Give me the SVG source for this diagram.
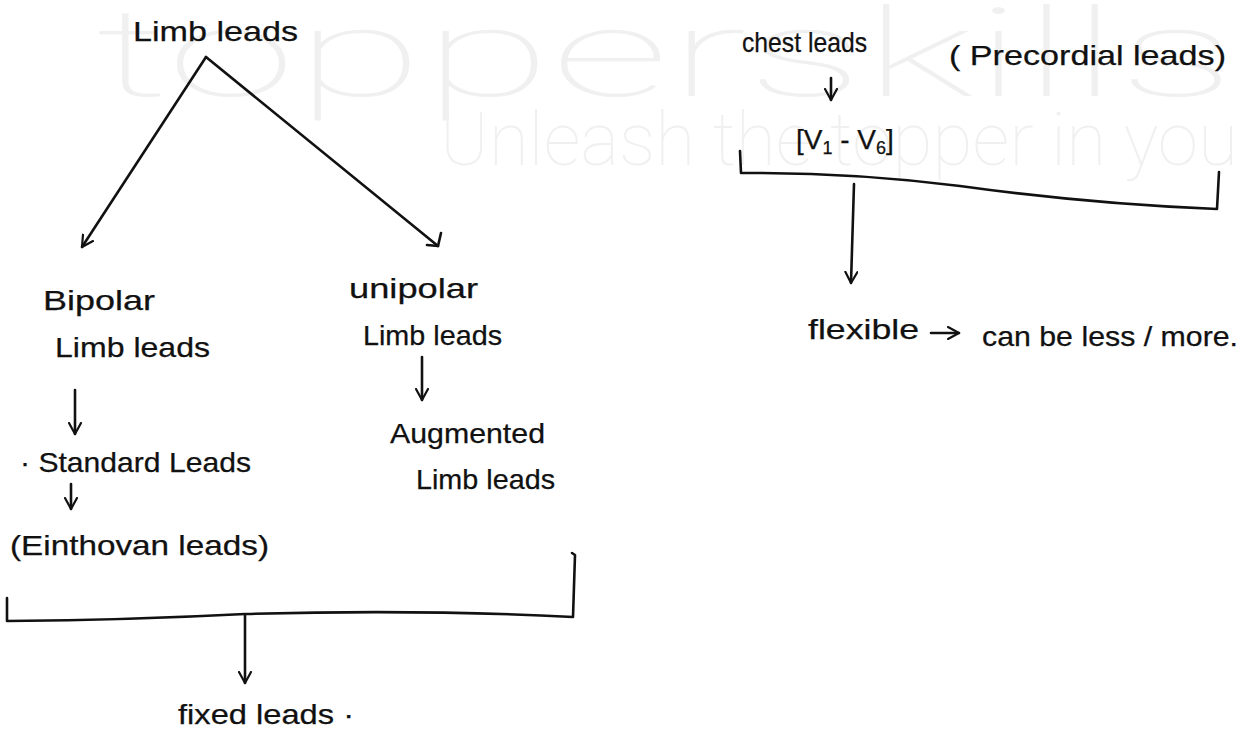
<svg xmlns="http://www.w3.org/2000/svg" width="1252" height="740" viewBox="0 0 1252 740">
  <style>
    .hand { font-family: "Liberation Sans", "DejaVu Sans", sans-serif; font-size: 28px; fill: #111; stroke: #111; stroke-width: 0.25; }
    .wm { font-family: Roboto, "Open Sans", sans-serif; font-weight: 100; fill: #f0f0f0; }
    .ink { fill: none; stroke: #111; stroke-width: 2.6; stroke-linecap: round; stroke-linejoin: round; }
  </style>
  <defs>
    <marker id="vhead" viewBox="0 0 14 14" refX="12" refY="7" markerWidth="14" markerHeight="14" markerUnits="userSpaceOnUse" orient="auto">
      <path d="M1,1 L12,7 L1,13" fill="none" stroke="#111" stroke-width="2.2" stroke-linecap="round" stroke-linejoin="round"/>
    </marker>
  </defs>
  <rect width="1252" height="740" fill="#fff"/>

  <!-- faint background lettering -->
  <g id="watermark">
    <text class="wm" x="95" y="96" font-size="122" textLength="1140" lengthAdjust="spacingAndGlyphs">topperskills</text>
    <text class="wm" x="440" y="165" font-size="75" textLength="798" lengthAdjust="spacingAndGlyphs">Unleash the topper in you</text>
  </g>

  <!-- connectors -->
  <g id="connectors">
    <line class="ink" x1="206" y1="57" x2="82" y2="247" marker-end="url(#vhead)"/>
    <line class="ink" x1="206" y1="57" x2="438" y2="246"/>
    <path class="ink" d="M427,245 L438,246 L441,233"/>
    <line class="ink" x1="75" y1="390" x2="75" y2="434" marker-end="url(#vhead)"/>
    <line class="ink" x1="71" y1="484" x2="71" y2="509" marker-end="url(#vhead)"/>
    <line class="ink" x1="422" y1="357" x2="422" y2="400" marker-end="url(#vhead)"/>
    <line class="ink" x1="831" y1="78" x2="831" y2="100" marker-end="url(#vhead)"/>
    <!-- bracket grouping the limb leads -->
    <path class="ink" d="M7,598 L7,621 Q130,620 245,614 Q420,609 573,617 L575,555 L572,553"/>
    <line class="ink" x1="245" y1="615" x2="245" y2="683" marker-end="url(#vhead)"/>
    <!-- bracket grouping the chest leads -->
    <path class="ink" d="M740,151 L741,173 Q850,172 960,186 Q1090,204 1217,209 L1219,172"/>
    <line class="ink" x1="854" y1="184" x2="851" y2="283" marker-end="url(#vhead)"/>
    <line class="ink" x1="931" y1="333" x2="959" y2="333" marker-end="url(#vhead)"/>
  </g>

  <g id="limb-leads"><text class="hand" x="133" y="41" textLength="165" lengthAdjust="spacingAndGlyphs">Limb leads</text></g>
  <g id="bipolar">
    <text class="hand" x="43" y="310" textLength="112" lengthAdjust="spacingAndGlyphs">Bipolar</text>
    <text class="hand" x="55" y="357" textLength="155" lengthAdjust="spacingAndGlyphs">Limb leads</text>
  </g>
  <g id="standard"><text class="hand" x="20" y="472" textLength="231" lengthAdjust="spacingAndGlyphs">· Standard Leads</text></g>
  <g id="einthovan"><text class="hand" x="10" y="555" textLength="259" lengthAdjust="spacingAndGlyphs">(Einthovan leads)</text></g>
  <g id="unipolar">
    <text class="hand" x="349" y="298" textLength="129" lengthAdjust="spacingAndGlyphs">unipolar</text>
    <text class="hand" x="363" y="345" textLength="139" lengthAdjust="spacingAndGlyphs">Limb leads</text>
  </g>
  <g id="augmented">
    <text class="hand" x="390" y="443" textLength="155" lengthAdjust="spacingAndGlyphs">Augmented</text>
    <text class="hand" x="416" y="489" textLength="139" lengthAdjust="spacingAndGlyphs">Limb leads</text>
  </g>
  <g id="fixed"><text class="hand" x="178" y="724" font-size="32" textLength="176" lengthAdjust="spacingAndGlyphs">fixed leads ·</text></g>

  <g id="chest-leads">
    <text class="hand" x="742" y="52" font-size="30" textLength="125" lengthAdjust="spacingAndGlyphs">chest leads</text>
    <text class="hand" x="949" y="65" font-size="30" textLength="277" lengthAdjust="spacingAndGlyphs">( Precordial leads)</text>
  </g>
  <g id="v1-v6">
    <text class="hand" x="796" y="149" font-size="30">[V<tspan font-size="18" dy="5">1</tspan><tspan dy="-5"> - V</tspan><tspan font-size="18" dy="5">6</tspan><tspan dy="-5">]</tspan></text>
  </g>
  <g id="flexible">
    <text class="hand" x="808" y="339" font-size="34" textLength="111" lengthAdjust="spacingAndGlyphs">flexible</text>
    <text class="hand" x="982" y="346" textLength="256" lengthAdjust="spacingAndGlyphs">can be less / more.</text>
  </g>
</svg>
